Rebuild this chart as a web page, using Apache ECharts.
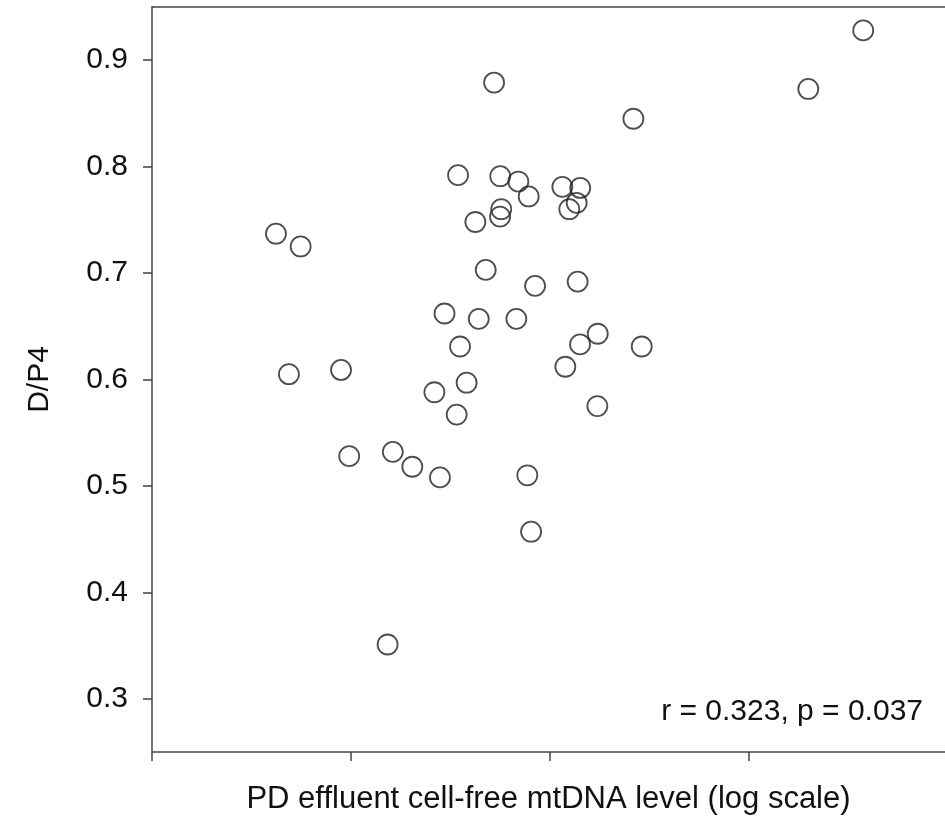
<!DOCTYPE html>
<html>
<head>
<meta charset="utf-8">
<script src="https://cdn.jsdelivr.net/npm/echarts@6/dist/echarts.min.js"></script>
<style>html,body{margin:0;padding:0;background:#fff;}#c{width:945px;height:820px;}</style>
</head>
<body>
<div id="c"></div>
<script>
// x values: position on log-scale axis (unlabelled), in tick-interval units
var xValues = [3.574,3.298,2.419,1.719,1.538,1.750,1.841,1.893,2.062,2.152,2.134,2.097,1.755,1.749,1.625,1.677,1.925,2.139,0.623,0.747,1.470,1.642,1.831,1.548,0.688,0.950,1.419,1.581,1.531,0.991,1.210,1.308,1.447,1.886,1.905,1.184,2.240,2.151,2.461,2.077,2.238];
// D/P4 values
var yValues = [0.928,0.873,0.845,0.879,0.792,0.791,0.786,0.772,0.781,0.780,0.766,0.760,0.760,0.753,0.748,0.703,0.688,0.692,0.737,0.725,0.662,0.657,0.657,0.631,0.605,0.609,0.588,0.597,0.567,0.528,0.532,0.518,0.508,0.510,0.457,0.351,0.643,0.633,0.631,0.612,0.575];
var xTicks = [0,1,2,3];
var yTicks = [0.3,0.4,0.5,0.6,0.7,0.8,0.9];
var xTitle = 'PD effluent cell-free mtDNA level (log scale)';
var yTitle = 'D/P4';
var annotation = 'r = 0.323, p = 0.037';

var pts = xValues.map(function(x,i){return [x,yValues[i]];});
var chart = echarts.init(document.getElementById('c'), null, {renderer:'canvas'});
var axisColor = '#444';
var font = 'Liberation Sans, Arial, sans-serif';
chart.setOption({
  animation:false,
  backgroundColor:'#fff',
  grid:{left:152, top:7, width:793, height:746, containLabel:false},
  xAxis:[{
    type:'value', min:0, max:3.985, position:'bottom',
    name:xTitle, nameLocation:'middle', nameGap:32,
    nameTextStyle:{fontFamily:font, fontSize:31, color:'#111'},
    axisLine:{show:true, onZero:false, lineStyle:{color:axisColor, width:1.5}},
    axisTick:{show:true, length:9, lineStyle:{color:axisColor, width:1.5}, customValues:xTicks},
    axisLabel:{show:false},
    splitLine:{show:false}
  },{
    type:'value', min:0, max:3.985, position:'top',
    axisLine:{show:true, lineStyle:{color:axisColor, width:1.5}},
    axisTick:{show:false}, axisLabel:{show:false}, splitLine:{show:false}
  }],
  yAxis:{
    type:'value', min:0.25, max:0.95,
    name:yTitle, nameLocation:'middle', nameGap:97, nameRotate:90,
    nameTextStyle:{fontFamily:font, fontSize:30, color:'#111'},
    axisLine:{show:true, onZero:false, lineStyle:{color:axisColor, width:1.5}},
    axisTick:{show:true, length:9, inside:false, lineStyle:{color:axisColor, width:1.5},
      customValues:yTicks},
    axisLabel:{show:true, margin:24, fontFamily:font, fontSize:30, color:'#111',
      customValues:yTicks, formatter:function(v){return v.toFixed(1);}},
    splitLine:{show:false}
  },
  graphic:[{
    type:'text', right:22, top:697,
    style:{text:annotation, font:'30px '+font, fill:'#111'}
  }],
  series:[{
    type:'scatter', data:pts, symbol:'circle', symbolSize:20,
    itemStyle:{color:'rgba(0,0,0,0)', borderColor:'#222', borderWidth:1.8},
    emphasis:{disabled:true}
  }]
});
</script>
</body>
</html>
